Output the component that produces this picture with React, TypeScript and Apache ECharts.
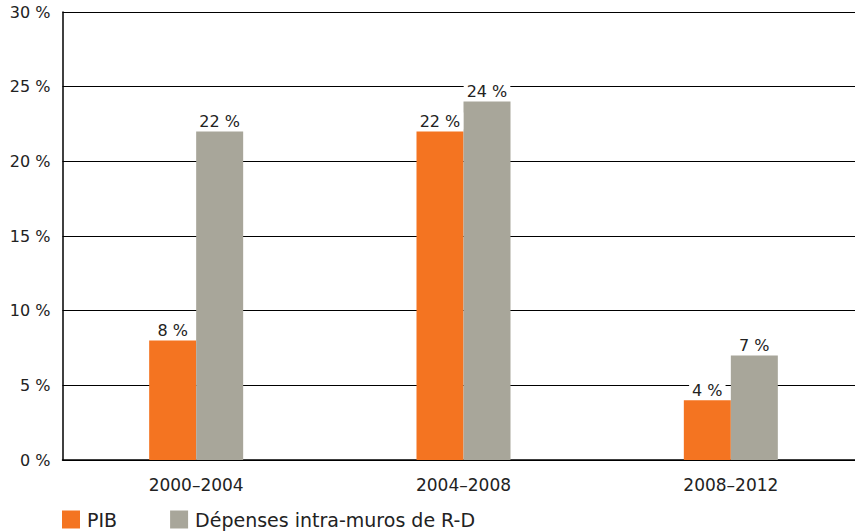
import React, { useEffect, useRef } from "react";
import * as echarts from "echarts";

const categories = ["2000–2004", "2004–2008", "2008–2012"];
const pib = [8, 22, 4];
const rd = [22, 24, 7];
const seriesNames = ["PIB", "Dépenses intra-muros de R-D"];
const yTicks = [0, 5, 10, 15, 20, 25, 30];

const FONT = "DejaVu Sans";
const TEXT = "#222222";

export default function App() {
  const ref = useRef<HTMLDivElement>(null);
  useEffect(() => {
    document.body.style.margin = "0";
    document.body.style.overflow = "hidden";
    const chart = echarts.init(ref.current!, null, { renderer: "svg" });
    const label = {
      show: true,
      position: "top" as const,
      distance: 2,
      formatter: (p: any) => `${p.value} %`,
      color: TEXT,
      fontFamily: FONT,
      fontSize: 16,
      backgroundColor: "#ffffff",
      padding: [1, 3, 0, 3],
    };
    chart.setOption({
      animation: false,
      backgroundColor: "#ffffff",
      grid: { left: 62.5, top: 12, width: 802, height: 448, containLabel: false },
      legend: {
        left: 62,
        top: 510,
        padding: 0,
        itemWidth: 18,
        itemHeight: 18,
        itemGap: 53,
        icon: "rect",
        data: seriesNames,
        textStyle: { color: TEXT, fontFamily: FONT, fontSize: 19, padding: [0, 0, 0, 2] },
      },
      xAxis: {
        type: "category",
        data: categories,
        axisLine: { lineStyle: { color: "#000", width: 1.5 } },
        axisTick: { show: false },
        axisLabel: { color: TEXT, fontFamily: FONT, fontSize: 17, margin: 16 },
      },
      yAxis: {
        type: "value",
        min: yTicks[0],
        max: yTicks[yTicks.length - 1],
        interval: 5,
        axisLine: { show: true, lineStyle: { color: "#000", width: 1.5 } },
        axisTick: { show: false },
        splitLine: { lineStyle: { color: "#000", width: 1 } },
        axisLabel: {
          color: TEXT,
          fontFamily: FONT,
          fontSize: 16,
          margin: 12,
          formatter: (v: number) => `${v} %`,
        },
      },
      series: [
        {
          name: seriesNames[0],
          type: "bar",
          data: pib,
          barWidth: 47,
          barGap: "0%",
          itemStyle: { color: "#F47421" },
          label,
        },
        {
          name: seriesNames[1],
          type: "bar",
          data: rd,
          barWidth: 47,
          barGap: "0%",
          itemStyle: { color: "#A8A69A" },
          label,
        },
      ],
    });
    return () => chart.dispose();
  }, []);
  return (
    <div style={{ width: 855, height: 532, overflow: "hidden", position: "relative" }}>
      <div ref={ref} style={{ width: 866, height: 532 }} />
    </div>
  );
}
